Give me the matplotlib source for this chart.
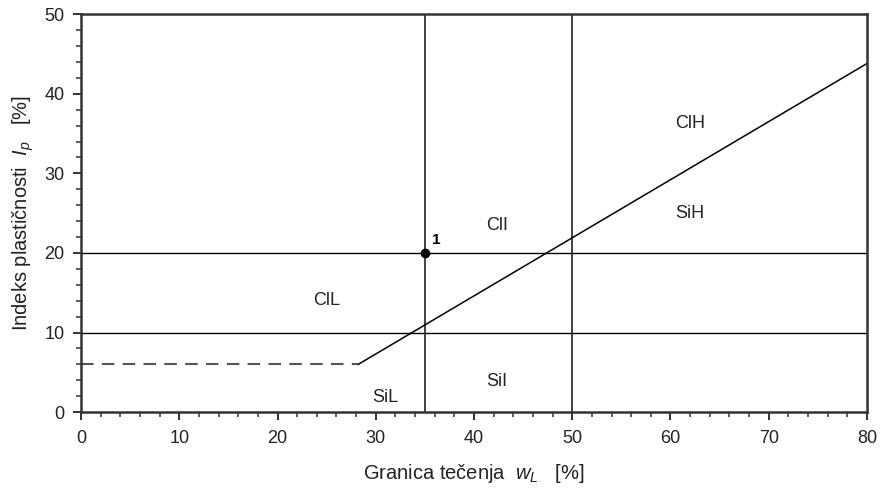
import numpy as np
import matplotlib
matplotlib.use('Agg')
import matplotlib.pyplot as plt
from matplotlib.ticker import MultipleLocator

plt.rcParams['font.family'] = ['Liberation Sans', 'DejaVu Sans']
plt.rcParams['mathtext.fontset'] = 'custom'
plt.rcParams['mathtext.rm'] = 'Liberation Sans'
plt.rcParams['mathtext.it'] = 'Liberation Sans:italic'

# A-linija: Ip = 0.73 (wL - 20)
a_line_wl = [28.2, 80]
a_line_ip = [0.73 * (w - 20) for w in a_line_wl]
dashed_wl = [0, 28.2]
dashed_ip = [6, 6]
h_lines = [10, 20]
v_lines = [35, 50]
point_wl = [35]
point_ip = [20]
zone_labels = ['ClH', 'SiH', 'ClI', 'ClL', 'SiI', 'SiL']
zone_x = [62, 62, 42.4, 25, 42.3, 31]
zone_y = [36.3, 25, 23.4, 14, 3.8, 1.8]


def main():
    fig = plt.figure(figsize=(8.81, 4.9), dpi=100)
    ax = fig.add_axes([0.092, 0.159, 0.892, 0.812])

    for y in h_lines:
        ax.axhline(y, color='black', lw=1.0)
    for x in v_lines:
        ax.axvline(x, color='#222222', lw=1.2)
    ax.plot(a_line_wl, a_line_ip, color='black', lw=1.1)
    ax.plot(dashed_wl, dashed_ip, color='#555555', lw=1.5, linestyle=(0, (6, 4)))
    ax.plot(point_wl, point_ip, 'o', color='black', ms=6, zorder=5)
    ax.text(36.2, 21.6, '1', fontsize=11, fontweight='bold', ha='center', va='center')

    for lab, x, y in zip(zone_labels, zone_x, zone_y):
        ax.text(x, y, lab, fontsize=13, ha='center', va='center', color='#222222')

    ax.set_xlim(0, 80)
    ax.set_ylim(0, 50)
    ax.xaxis.set_major_locator(MultipleLocator(10))
    ax.xaxis.set_minor_locator(MultipleLocator(2))
    ax.yaxis.set_major_locator(MultipleLocator(10))
    ax.yaxis.set_minor_locator(MultipleLocator(2))
    ax.tick_params(which='major', direction='out', length=6, width=1.4, labelsize=13,
                   colors='#333333', labelcolor='#222222')
    ax.tick_params(which='minor', direction='out', length=3.5, width=1.1, colors='#333333')
    ax.tick_params(axis='x', which='major', pad=7)
    ax.tick_params(axis='y', which='major', pad=6)
    for s in ax.spines.values():
        s.set_linewidth(1.8)
        s.set_color('#333333')

    ax.set_xlabel(r'Granica tečenja  $w_L$   [%]', fontsize=14.5, labelpad=11, color='#222222')
    ax.set_ylabel(r'Indeks plastičnosti  $I_p$   [%]', fontsize=14.5, labelpad=6, color='#222222')

    fig.savefig('out.png', dpi=100)


if __name__ == '__main__':
    main()
